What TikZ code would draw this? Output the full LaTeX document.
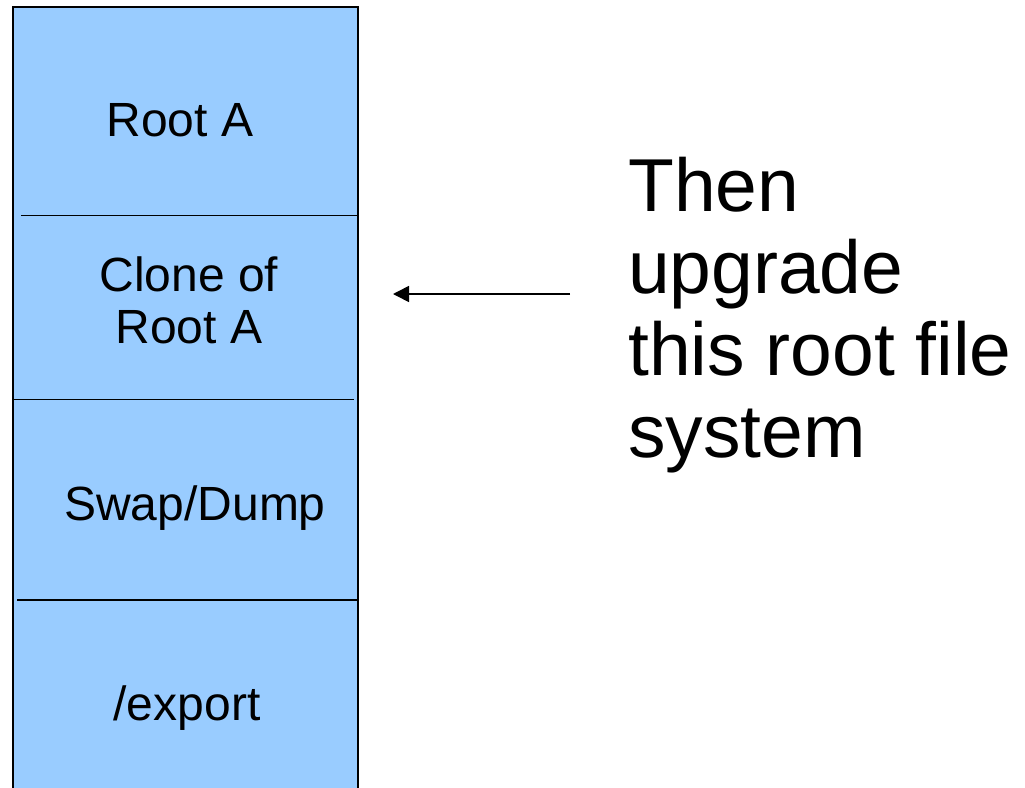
\documentclass[tikz,border=0pt]{standalone}
\usepackage{fontspec}
\setmainfont{Liberation Sans}
\usetikzlibrary{positioning,arrows.meta}
\definecolor{fsblue}{HTML}{99CCFF}

\begin{document}
\begin{tikzpicture}[
  x=1pt, y=-1pt,
  part/.style={inner sep=0pt, anchor=base, align=center, font=\fontsize{48}{52}\selectfont},
  note/.style={inner sep=0pt, anchor=base west, align=left, font=\fontsize{75}{82}\selectfont},
  sep/.style={draw=black, line width=1.6pt},
  ptr/.style={-{Triangle[length=16pt,width=16pt]}, draw=black, line width=1.6pt}
]
\useasboundingbox (0,0) rectangle (1025,787);
\begin{scope}
\clip (0,0) rectangle (1025,787);
\draw[fill=fsblue, line width=2pt] (12.5,7) rectangle (358,820);
\end{scope}

\draw[sep] (21,215.5) -- (357,215.5);
\draw[sep] (13,399.5) -- (354,399.5);
\draw[sep] (17,600) -- (357,600);

% base anchor sits on the last line
\node[part] (root)  at (180,136) {Root A};
\node[part] (clone) at (189,343) {Clone of\\Root A};
\node[part] (swap)  at (195,520) {Swap/Dump};
\node[part] (exp)   at (187,720) {/export};

\node[note] (then) at (628,457) {Then\\upgrade\\this root file\\system};

\coordinate (tail) at (570,294);
\coordinate (tip)  at (393,294);
\draw[ptr] (tail) -- (tip);
\end{tikzpicture}
\end{document}
